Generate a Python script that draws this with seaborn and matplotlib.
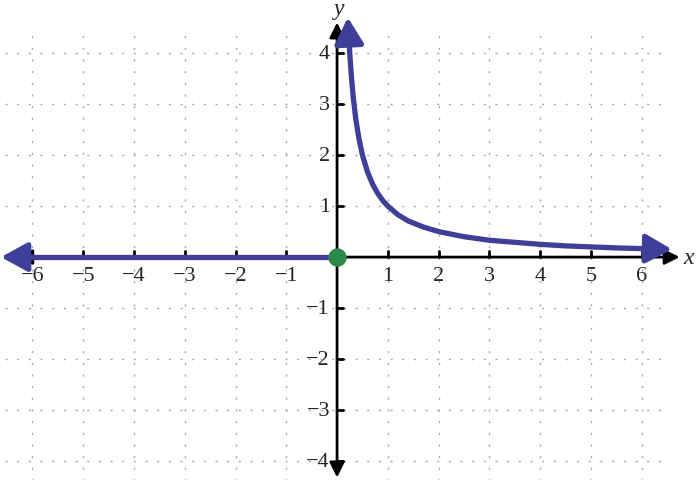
"""
Piecewise graph: y = 0 for x <= 0, y = 1/x for x > 0, drawn on a dotted grid.
"""

import matplotlib.pyplot as plt
import seaborn as sns

sns.set_style("white")
plt.rcParams["font.family"] = ["Liberation Serif", "DejaVu Serif"]

# tick values
x_ticks = [-6, -5, -4, -3, -2, -1, 1, 2, 3, 4, 5, 6]
y_ticks = [-4, -3, -2, -1, 1, 2, 3, 4]
grid_x = [-6, -5, -4, -3, -2, -1, 1, 2, 3, 4, 5, 6]
grid_y = [-4, -3, -2, -1, 1, 2, 3, 4]

# left piece (y = 0), first value is the arrow tip
left_x = [-6.62, -6.0, -3.0, 0.0]
left_y = [0.0, 0.0, 0.0, 0.0]

# right piece, first and last values are arrow tips
curve_x = [0.212, 0.23, 0.25, 0.28, 0.32, 0.37, 0.43, 0.5, 0.6, 0.7, 0.8, 0.9,
           1.0, 1.2, 1.4, 1.7, 2.0, 2.5, 3.0, 3.5, 4.0, 4.5, 5.0, 5.5, 6.0, 6.6]
curve_y = [4.7, 4.35, 4.0, 3.57, 3.12, 2.70, 2.33, 2.0, 1.67, 1.43, 1.25, 1.11,
           1.0, 0.83, 0.71, 0.59, 0.5, 0.4, 0.33, 0.29, 0.25, 0.22, 0.2, 0.18,
           0.167, 0.15]

# closed point
dot_x = [0.0]
dot_y = [0.0]

BLUE = "#3f3f99"
GREEN = "#2a8a4a"
GRID = "#a8a8a8"

fig = plt.figure(figsize=(7, 4.81), dpi=100)
ax = fig.add_axes([0, 0, 1, 1])
ax.set_xlim(-6.64, 7.15)
ax.set_ylim(-4.37, 5.06)
ax.axis("off")

# dotted grid
dots = (0, (1.5, 6.9))
ax.hlines(grid_y, -6.55, 6.55, color=GRID, lw=1, linestyle=dots, zorder=1)
ax.vlines(grid_x, -4.45, 4.38, color=GRID, lw=1, linestyle=dots, zorder=1)

# axes with arrows (left end of the x axis sits under the blue arrow)
axis_arrow = dict(arrowstyle="<|-|>,head_length=0.9,head_width=0.45",
                  color="black", lw=2, shrinkA=0, shrinkB=0, mutation_scale=10)
ax.annotate("", xy=(6.75, 0), xytext=(-6.3, 0), arrowprops=axis_arrow,
            zorder=2)
ax.annotate("", xy=(0, 4.6), xytext=(0, -4.32), arrowprops=axis_arrow,
            zorder=2)

# tick marks and labels
for t in x_ticks:
    ax.plot([t, t], [0, 0.12], color="black", lw=2, zorder=2)
    ax.text(t, -0.37, f"{t}".replace("-", "\u2212"), ha="center", va="center",
            fontsize=16)
for t in y_ticks:
    ax.plot([0, 0.12], [t, t], color="black", lw=2, zorder=2)
    ax.text(-0.14, t, f"{t}".replace("-", "\u2212"), ha="right", va="center",
            fontsize=16)

ax.text(6.92, 0.0, "x", style="italic", fontsize=17, ha="center", va="center")
ax.text(0.05, 4.87, "y", style="italic", fontsize=17, ha="center", va="center")

# graph
sns.lineplot(x=left_x[1:], y=left_y[1:], ax=ax, color=BLUE, lw=3.8,
             sort=False, estimator=None, zorder=3)
sns.lineplot(x=curve_x[1:-1], y=curve_y[1:-1], ax=ax, color=BLUE, lw=3.8,
             sort=False, estimator=None, zorder=3)

blue_head = "-|>,head_length=1.0,head_width=0.55"
for tip, base in [((left_x[0], left_y[0]), (left_x[1], left_y[1])),
                  ((curve_x[0], curve_y[0]), (curve_x[1], curve_y[1])),
                  ((curve_x[-1], curve_y[-1]), (curve_x[-2], curve_y[-2]))]:
    ax.annotate("", xy=tip, xytext=base,
                arrowprops=dict(arrowstyle=blue_head, color=BLUE, lw=3.8,
                                shrinkA=0, shrinkB=0, mutation_scale=16),
                zorder=3)

sns.scatterplot(x=dot_x, y=dot_y, ax=ax, color=GREEN, s=150, edgecolor=GREEN,
                zorder=4)

fig.savefig("out.png", dpi=100)
